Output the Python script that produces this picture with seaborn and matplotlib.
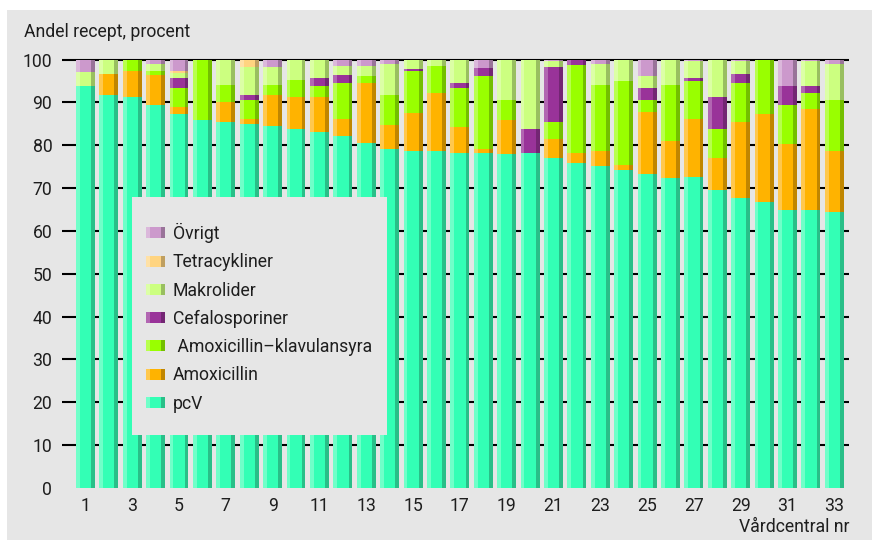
import numpy as np
import pandas as pd
import seaborn as sns
import matplotlib.pyplot as plt
from matplotlib.patches import Patch, Rectangle
from matplotlib.legend_handler import HandlerTuple

# vårdcentral 1..33, andel recept (%) per antibiotikagrupp, nerifrån och upp
centrals = [str(i) for i in range(1, 34)]
pcv = [93.9, 91.8, 91.2, 89.5, 87.3, 86.0, 85.5, 85.0, 84.4, 83.8, 83.2,
       82.2, 80.5, 79.1, 78.7, 78.7, 78.1, 78.1, 78.0, 78.1, 77.1, 75.8,
       75.2, 74.2, 73.4, 72.4, 72.5, 69.5, 67.8, 66.7, 65.0, 65.0, 64.5]
amox = [0, 4.9, 6.2, 7.0, 1.7, 0, 4.7, 1.1, 7.4, 7.4, 8.0,
        4.0, 14.1, 5.6, 8.9, 13.6, 6.1, 1.0, 7.9, 0, 4.4, 2.4,
        3.5, 1.2, 14.3, 8.6, 13.6, 7.6, 17.7, 20.6, 15.3, 23.4, 14.2]
amox_klav = [0, 0, 2.6, 0.9, 4.5, 14.0, 4.0, 4.5, 2.3, 4.1, 2.7,
             8.4, 1.7, 7.0, 9.7, 6.3, 9.2, 17.1, 4.7, 0, 4.0, 20.5,
             15.4, 19.7, 2.9, 13.0, 9.0, 6.7, 9.0, 12.7, 9.2, 3.8, 11.9]
cefalo = [0, 0, 0, 0, 2.3, 0, 0, 1.2, 0, 0, 1.9,
          1.9, 0, 0, 0.5, 0, 1.2, 1.8, 0, 5.7, 12.7, 1.3,
          0, 0, 2.8, 0, 0.7, 7.5, 2.2, 0, 4.4, 1.7, 0]
makro = [3.3, 3.3, 0, 1.7, 1.2, 0, 5.8, 6.4, 4.3, 4.7, 4.2,
         2.1, 2.3, 7.4, 2.2, 1.4, 5.4, 0, 9.4, 16.2, 1.4, 0,
         5.0, 4.9, 2.85, 6.0, 4.0, 8.7, 3.1, 0, 0, 5.9, 8.5]
tetra = [0, 0, 0, 0, 0.4, 0, 0, 1.8, 0, 0, 0,
         0, 0, 0, 0, 0, 0, 0, 0, 0, 0, 0,
         0, 0, 0, 0, 0, 0, 0, 0, 0, 0, 0]
ovrigt = [2.8, 0, 0, 0.9, 2.6, 0, 0, 0, 1.6, 0, 0,
          1.4, 1.4, 0.9, 0, 0, 0, 2.0, 0, 0, 0.4, 0,
          0.9, 0, 3.75, 0, 0.2, 0, 0.2, 0, 6.1, 0.2, 0.9]

names = ["pcV", "Amoxicillin", " Amoxicillin\u2013klavulansyra", "Cefalosporiner",
         "Makrolider", "Tetracykliner", "Övrigt"]
series = [pcv, amox, amox_klav, cefalo, makro, tetra, ovrigt]

main = ["#33ffb5", "#ffb300", "#99ff00", "#993399", "#ccff80", "#ffd480", "#cc99cc"]
light = ["#70ffc9", "#ffc84d", "#b8ff4d", "#b266b2", "#dcffa6", "#ffe1a6", "#dbb8db"]
dark = ["#29bf88", "#c08600", "#73bf00", "#732673", "#99bf60", "#bf9f60", "#997399"]

df = pd.DataFrame({"central": centrals})
for n, s in zip(names, series):
    df[n] = s
cum = df[names].cumsum(axis=1)

sns.set_theme(style="white")
plt.rcParams["font.family"] = ["Roboto", "DejaVu Sans"]
fs = 12.7
txt = "#1e1e1e"

fig = plt.figure(figsize=(8.72, 5.4), dpi=100, facecolor="white")
fig.add_artist(Rectangle((7 / 872, 0), 1, 530 / 540, transform=fig.transFigure,
                         facecolor="#e6e6e6", edgecolor="none", zorder=-10))
ax = fig.add_axes([62 / 872, 52.3 / 540, 787 / 872, 428 / 540])
ax.set_facecolor("none")

bw = 0.81
# stacked: draw cumulative tops from the highest down
for i in reversed(range(len(names))):
    sns.barplot(x=df["central"], y=cum[names[i]], color=main[i], saturation=1,
                width=bw, errorbar=None, linewidth=0, zorder=2, ax=ax)

# light left / dark right edge stripes
pos = np.arange(len(centrals))
sw = bw / 5
bottom = np.zeros(len(centrals))
for i, s in enumerate(series):
    v = np.array(s, dtype=float)
    ax.bar(pos - bw / 2, v, width=sw, bottom=bottom, align="edge",
           color=light[i], linewidth=0, zorder=3)
    ax.bar(pos + bw / 2 - sw, v, width=sw, bottom=bottom, align="edge",
           color=dark[i], linewidth=0, zorder=3)
    bottom += v

ax.hlines(range(10, 101, 10), -1.0, 32.63, color="black", lw=1.5, zorder=1, clip_on=False)
ax.set_xlim(-1.0, 32.63)
ax.set_ylim(0, 100)
ax.set_yticks(range(0, 101, 10))
ax.set_xticks(pos[::2])
ax.set_xticklabels(centrals[::2])
ax.set_xlabel("")
ax.set_ylabel("")
ax.tick_params(length=0, labelsize=fs, colors=txt)
ax.tick_params(axis="y", pad=7)
ax.tick_params(axis="x", pad=7)
sns.despine(ax=ax, left=True, bottom=True)

fig.text(24 / 872, (540 - 32) / 540, "Andel recept, procent", fontsize=fs,
         color=txt, ha="left", va="center")
fig.text(849 / 872, (540 - 527) / 540, "Vårdcentral nr", fontsize=fs,
         color=txt, ha="right", va="center")

# legend
fig.add_artist(Rectangle((132 / 872, 105 / 540), 255 / 872, 238 / 540,
                         transform=fig.transFigure, facecolor="#e6e6e6",
                         edgecolor="none", zorder=4))
handles = []
for i in reversed(range(len(names))):
    handles.append((Patch(color=light[i], lw=0), Patch(color=main[i], lw=0),
                    Patch(color=main[i], lw=0), Patch(color=main[i], lw=0),
                    Patch(color=dark[i], lw=0)))
leg = fig.legend(handles, list(reversed(names)),
                 handler_map={tuple: HandlerTuple(ndivide=None, pad=0)},
                 loc="upper left", bbox_to_anchor=(146 / 872, (540 - 223) / 540),
                 frameon=False, borderpad=0, borderaxespad=0, handlelength=1.08,
                 handleheight=0.6, handletextpad=0.45, labelspacing=0.58,
                 fontsize=fs, labelcolor=txt)
leg.set_zorder(5)

fig.savefig("out.png", dpi=100, facecolor="white")
